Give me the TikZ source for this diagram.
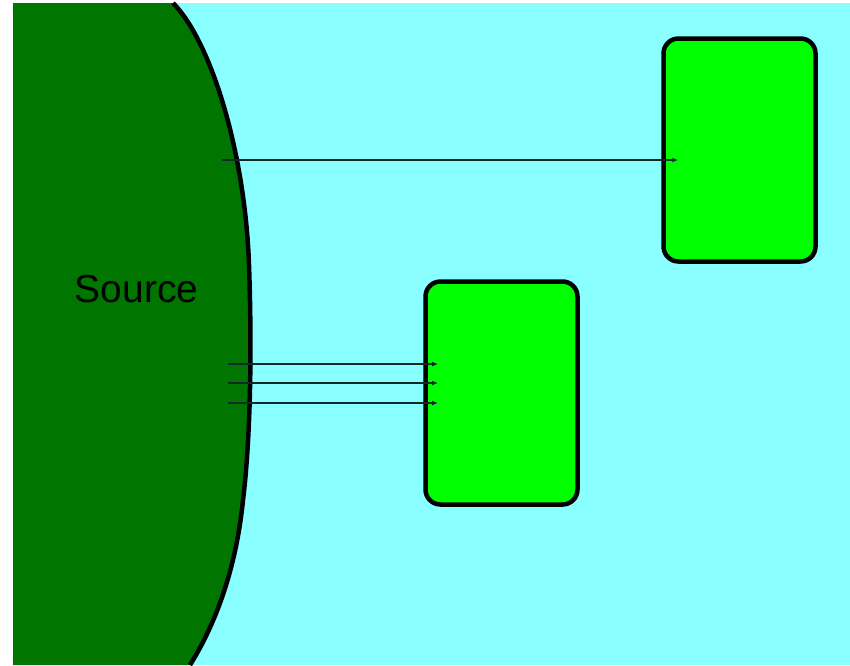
\documentclass[tikz,border=0pt]{standalone}
\usepackage{fontspec}
\setmainfont{Liberation Sans}
\usetikzlibrary{arrows.meta,calc}
\definecolor{bgcyan}{RGB}{138,255,255}
\definecolor{srcgreen}{RGB}{0,118,0}
\definecolor{boxgreen}{RGB}{0,255,0}
\definecolor{arrowcol}{RGB}{16,40,40}
\tikzset{
  targetbox/.style={draw=black, line width=4.5pt, fill=boxgreen, rounded corners=15pt,
    minimum width=152pt, minimum height=223pt, inner sep=0pt},
  ray/.style={draw=arrowcol, line width=1.8pt, -{Latex[length=6pt,width=5pt]}},
}
\begin{document}
\begin{tikzpicture}[x=1pt,y=-1pt]
\useasboundingbox (0,0) rectangle (850,665);
\fill[white] (0,0) rectangle (850,665);
\fill[bgcyan] (13,3) rectangle (850,665);
% source region
\fill[srcgreen] (13,3) -- (175,3)
  .. controls (210,40) and (245,150) .. (249,265)
  .. controls (253,380) and (248,460) .. (243,500)
  .. controls (236,570) and (215,625) .. (190,665)
  -- (13,665) -- cycle;
\draw[line width=4.5pt, line cap=butt] (173,3)
  .. controls (210,40) and (245,150) .. (249,265)
  .. controls (253,380) and (248,460) .. (243,500)
  .. controls (236,570) and (215,625) .. (190,665);
\node (src) at (136.5,289) {\fontsize{39pt}{42pt}\selectfont Source};
% targets
\node[targetbox] (boxA) at (739.5,150) {};
\node[targetbox] (boxB) at (501.5,393) {};
% ray endpoints
\coordinate (s1) at (222,160);
\coordinate (s2) at (228,364);
\coordinate (s3) at (228,383);
\coordinate (s4) at (228,403);
\coordinate (e1) at ($(boxA.west)+(17,10)$);
\coordinate (e2) at (438,364);
\coordinate (e3) at (438,383);
\coordinate (e4) at (438,403);
\draw[ray] (s1) -- (e1);
\draw[ray] (s2) -- (e2);
\draw[ray] (s3) -- (e3);
\draw[ray] (s4) -- (e4);
\end{tikzpicture}
\end{document}
